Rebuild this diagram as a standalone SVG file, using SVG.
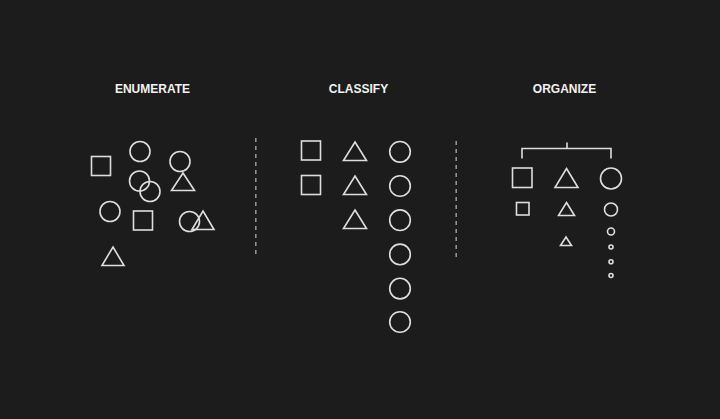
<svg xmlns="http://www.w3.org/2000/svg" width="720" height="419" viewBox="0 0 720 419">
<style>
.bg{fill:#1c1c1c}
.t{font-family:"Liberation Sans",Arial,sans-serif;font-weight:bold;font-size:12px;fill:#f2f2f2;text-anchor:middle}
.s{fill:none;stroke:#dedede;stroke-width:1.6}
.d{stroke:#9a9a9a;stroke-width:1.5;stroke-dasharray:4 4}
</style>
<rect class="bg" width="720" height="419"/>
<g id="enumerate">
<text class="t" x="152.5" y="93">ENUMERATE</text>
<rect class="s" x="91.5" y="156.5" width="19" height="19"/>
<circle class="s" cx="140" cy="151.5" r="10"/>
<circle class="s" cx="180" cy="161.5" r="10"/>
<polygon class="s" points="183,173 194.5,190.5 171.5,190.5"/>
<circle class="s" cx="139.5" cy="181" r="10"/>
<circle class="s" cx="150" cy="191.5" r="10"/>
<circle class="s" cx="110" cy="211.5" r="10"/>
<rect class="s" x="133.5" y="211" width="19" height="19"/>
<circle class="s" cx="189.5" cy="221.5" r="10"/>
<polygon class="s" points="203,211 214,229.5 192,229.5"/>
<polygon class="s" points="113,247 124,265.5 102,265.5"/>
</g>
<g id="classify">
<text class="t" x="358.5" y="93">CLASSIFY</text>
<rect class="s" x="301.5" y="141" width="19" height="19"/>
<rect class="s" x="301.5" y="175.5" width="19" height="19"/>
<polygon class="s" points="355,142 366.5,160.5 343.5,160.5"/>
<polygon class="s" points="355,176 366.5,194.5 343.5,194.5"/>
<polygon class="s" points="355,210 366.5,228.5 343.5,228.5"/>
<circle class="s" cx="400" cy="151.8" r="10.3"/>
<circle class="s" cx="400" cy="186" r="10.3"/>
<circle class="s" cx="400" cy="220.2" r="10.3"/>
<circle class="s" cx="400" cy="254.4" r="10.3"/>
<circle class="s" cx="400" cy="288.6" r="10.3"/>
<circle class="s" cx="400" cy="322" r="10.3"/>
</g>
<g id="organize">
<text class="t" x="564.5" y="93">ORGANIZE</text>
<path class="s" d="M522,158.5 V148.5 H611 V158.5 M567,142.5 V148.5"/>
<rect class="s" x="512.5" y="168" width="19.5" height="19.5"/>
<polygon class="s" points="566.5,168.5 578,187.5 555,187.5"/>
<circle class="s" cx="611" cy="178.5" r="10.5"/>
<rect class="s" x="516.5" y="202.5" width="12.5" height="12.5"/>
<polygon class="s" points="566.5,202.5 574.5,215.5 558.5,215.5"/>
<circle class="s" cx="611" cy="209.5" r="6.5"/>
<polygon class="s" points="566,237 571.5,245.5 560.5,245.5"/>
<circle class="s" cx="611" cy="231.5" r="3.5"/>
<circle class="s" cx="611" cy="247" r="2"/>
<circle class="s" cx="611" cy="261.8" r="2"/>
<circle class="s" cx="611" cy="275.5" r="2"/>
</g>
<g id="connectors">
<line class="d" x1="255.8" y1="138" x2="255.8" y2="256"/>
<line class="d" x1="456.2" y1="141" x2="456.2" y2="259"/>
</g>
</svg>
